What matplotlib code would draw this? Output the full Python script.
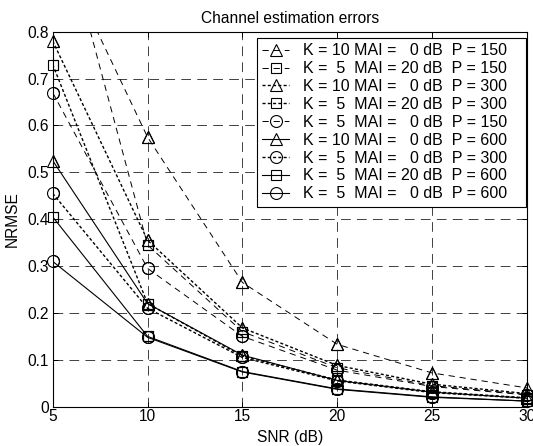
import numpy as np
import matplotlib
matplotlib.use("Agg")
import matplotlib.pyplot as plt

plt.rcParams['font.family'] = ['Liberation Sans', 'DejaVu Sans']
plt.rcParams['lines.scale_dashes'] = False

snr = [5, 10, 15, 20, 25, 30]

tri150 = [1.00, 0.575, 0.265, 0.133, 0.072, 0.040]
sq150 = [1.10, 0.345, 0.160, 0.083, 0.045, 0.026]
tri300 = [0.78, 0.355, 0.168, 0.088, 0.048, 0.028]
sq300 = [0.73, 0.220, 0.108, 0.057, 0.032, 0.019]
circ150 = [0.67, 0.295, 0.150, 0.078, 0.043, 0.025]
tri600 = [0.525, 0.220, 0.110, 0.056, 0.031, 0.018]
circ300 = [0.455, 0.210, 0.105, 0.055, 0.030, 0.018]
sq600 = [0.405, 0.150, 0.075, 0.038, 0.021, 0.012]
circ600 = [0.31, 0.148, 0.074, 0.037, 0.020, 0.012]

labels = [
    "K = 10 MAI =   0 dB  P = 150",
    "K =  5  MAI = 20 dB  P = 150",
    "K = 10 MAI =   0 dB  P = 300",
    "K =  5  MAI = 20 dB  P = 300",
    "K =  5  MAI =   0 dB  P = 150",
    "K = 10 MAI =   0 dB  P = 600",
    "K =  5  MAI =   0 dB  P = 300",
    "K =  5  MAI = 20 dB  P = 600",
    "K =  5  MAI =   0 dB  P = 600",
]
series = [tri150, sq150, tri300, sq300, circ150, tri600, circ300, sq600, circ600]

dashed = (0, (4.5, 3.5))
dotted = (0, (2.2, 1.6))
styles = [
    ('^', dashed, 0.7), ('s', dashed, 0.7), ('^', dotted, 1.0), ('s', dotted, 1.0),
    ('o', dashed, 0.7), ('^', '-', 0.8), ('o', dotted, 1.0), ('s', '-', 0.8), ('o', '-', 0.8),
]
msize = {'^': 9.0, 's': 7.8, 'o': 8.6}
fs = 11.2

fig = plt.figure(figsize=(5.33, 4.46), dpi=100)
ax = fig.add_axes([0.0989, 0.0881, 0.8899, 0.8408])

ymax = 0.8
for vals, lab, (mk, ls, lw) in zip(series, labels, styles):
    ax.plot(snr, vals, color='black', linestyle=ls, linewidth=lw, marker=mk,
            markersize=msize[mk], markerfacecolor='none', markeredgewidth=0.8,
            label=lab + "   ", zorder=3)
    v = np.array(vals, dtype=float)
    v = np.where(v <= ymax + 0.01, v, np.nan)
    ax.plot(snr, v, linestyle='none', marker=mk, markersize=msize[mk],
            markerfacecolor='none', markeredgecolor='black', markeredgewidth=0.8,
            clip_on=False, zorder=4)

ax.set_xlim(5, 30)
ax.set_ylim(0, 0.8)
ax.set_xticks([5, 10, 15, 20, 25, 30])
ax.set_yticks(np.arange(0, 0.81, 0.1))
ax.set_yticklabels(['0', '0.1', '0.2', '0.3', '0.4', '0.5', '0.6', '0.7', '0.8'])
ax.tick_params(direction='in', length=3.6, width=0.7, top=True, right=True,
               labelsize=fs, pad=3)
ax.tick_params(axis='x', pad=2)
for sp in ax.spines.values():
    sp.set_linewidth(0.8)
ax.grid(True, color='0.25', linestyle=(0, (7, 4.5)), linewidth=0.7, zorder=0)
ax.set_axisbelow(True)

ax.set_title('Channel estimation errors', fontsize=fs, pad=6)
ax.set_xlabel('SNR (dB)', fontsize=fs, labelpad=4)
ax.set_ylabel('NRMSE', fontsize=fs, labelpad=5)

leg = ax.legend(loc='upper right', bbox_to_anchor=(0.998, 0.984), borderaxespad=0,
                fontsize=11.5, handlelength=1.7, handletextpad=0.85, borderpad=0.35,
                labelspacing=0.18, fancybox=False, framealpha=1, edgecolor='black')
leg.get_frame().set_linewidth(0.8)
leg.set_zorder(10)

fig.savefig('out.png', dpi=100)
